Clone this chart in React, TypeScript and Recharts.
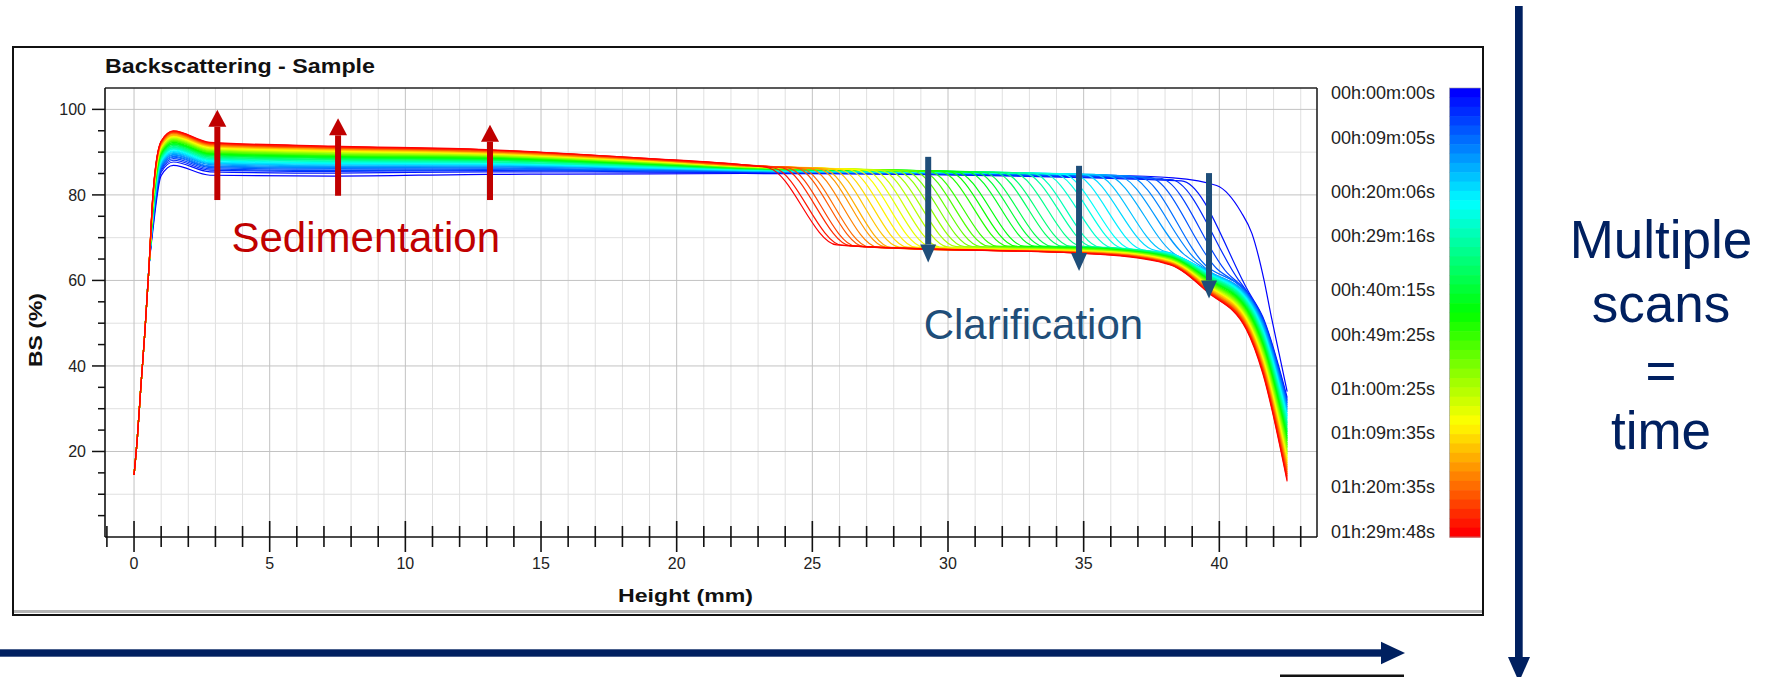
import React from 'react';
import { LineChart, Line, XAxis, YAxis, CartesianGrid, ReferenceLine } from 'recharts';

const FONT = '"Liberation Sans", Arial, Helvetica, sans-serif';
const NAVY = '#002060';
const _ = null;

// Bottom of the vial: every scan climbs the same way (height mm, BS %)
const riseHeights = [0, 0.12, 0.25, 0.4, 0.55];
const riseBS = [14.5, 23, 35, 48, 63];

// Sediment / plateau zone, one value per scan (scan 0 = t0 ... scan 47 = 1h29m48s)
const plateauHeights = [0.7, 1.0, 1.45, 2.8, 7.4, 13, 19, 22.5];
const bsAt0p7 = [72.0, 72.8, 73.3, 73.6, 73.9, 74.2, 74.5, 74.7, 74.9, 75.2, 75.4, 75.6, 75.7, 75.9, 76.1, 76.3, 76.5, 76.6, 76.8, 76.9, 77.1, 77.2, 77.4, 77.5, 77.7, 77.8, 78.0, 78.1, 78.2, 78.4, 78.5, 78.6, 78.7, 78.9, 79.0, 79.1, 79.2, 79.4, 79.5, 79.6, 79.7, 79.8, 79.9, 80.1, 80.2, 80.3, 80.4, 80.5];
const bsAt1p0 = [84.5, 85.3, 85.7, 86.1, 86.4, 86.6, 86.9, 87.1, 87.3, 87.5, 87.7, 87.9, 88.1, 88.3, 88.4, 88.6, 88.7, 88.9, 89.1, 89.2, 89.4, 89.5, 89.6, 89.8, 89.9, 90.1, 90.2, 90.3, 90.4, 90.6, 90.7, 90.8, 90.9, 91.1, 91.2, 91.3, 91.4, 91.5, 91.6, 91.7, 91.9, 92.0, 92.1, 92.2, 92.3, 92.4, 92.5, 92.6];
const bsAt1p45 = [86.9, 87.7, 88.1, 88.5, 88.8, 89.0, 89.3, 89.5, 89.7, 89.9, 90.1, 90.3, 90.5, 90.7, 90.8, 91.0, 91.1, 91.3, 91.5, 91.6, 91.8, 91.9, 92.0, 92.2, 92.3, 92.5, 92.6, 92.7, 92.8, 93.0, 93.1, 93.2, 93.3, 93.5, 93.6, 93.7, 93.8, 93.9, 94.0, 94.1, 94.3, 94.4, 94.5, 94.6, 94.7, 94.8, 94.9, 95.0];
const bsAt2p8 = [84.6, 85.4, 85.8, 86.1, 86.4, 86.6, 86.8, 87.1, 87.3, 87.5, 87.6, 87.8, 88.0, 88.2, 88.3, 88.5, 88.6, 88.8, 88.9, 89.1, 89.2, 89.4, 89.5, 89.6, 89.7, 89.9, 90.0, 90.1, 90.2, 90.4, 90.5, 90.6, 90.7, 90.8, 90.9, 91.1, 91.2, 91.3, 91.4, 91.5, 91.6, 91.7, 91.8, 91.9, 92.0, 92.1, 92.2, 92.3];
const bsAt7p4 = [84.4, 85.1, 85.5, 85.7, 86.0, 86.2, 86.4, 86.6, 86.8, 87.0, 87.2, 87.3, 87.5, 87.6, 87.8, 87.9, 88.1, 88.2, 88.3, 88.5, 88.6, 88.7, 88.8, 89.0, 89.1, 89.2, 89.3, 89.4, 89.5, 89.6, 89.8, 89.9, 90.0, 90.1, 90.2, 90.3, 90.4, 90.5, 90.6, 90.7, 90.8, 90.9, 91.0, 91.0, 91.1, 91.2, 91.3, 91.4];
const bsAt13 = [84.8, 85.4, 85.7, 85.9, 86.1, 86.3, 86.5, 86.7, 86.8, 87.0, 87.1, 87.2, 87.4, 87.5, 87.6, 87.7, 87.8, 88.0, 88.1, 88.2, 88.3, 88.4, 88.5, 88.6, 88.7, 88.8, 88.9, 89.0, 89.1, 89.1, 89.2, 89.3, 89.4, 89.5, 89.6, 89.7, 89.7, 89.8, 89.9, 90.0, 90.1, 90.1, 90.2, 90.3, 90.4, 90.5, 90.5, 90.6];
const bsAt19 = [84.9, 85.3, 85.4, 85.6, 85.7, 85.8, 86.0, 86.1, 86.2, 86.2, 86.3, 86.4, 86.5, 86.6, 86.6, 86.7, 86.8, 86.9, 86.9, 87.0, 87.1, 87.1, 87.2, 87.2, 87.3, 87.4, 87.4, 87.5, 87.5, 87.6, 87.7, 87.7, 87.8, 87.8, 87.9, 87.9, 88.0, 88.0, 88.1, 88.1, 88.2, 88.2, 88.3, 88.3, 88.4, 88.4, 88.5, 88.5];
const bsAt22p5 = [85.0, 85.2, 85.3, 85.4, 85.5, 85.5, 85.6, 85.6, 85.7, 85.7, 85.8, 85.8, 85.9, 85.9, 86.0, 86.0, 86.1, 86.1, 86.1, 86.2, 86.2, 86.2, 86.3, 86.3, 86.3, 86.4, 86.4, 86.4, 86.5, 86.5, 86.5, 86.6, 86.6, 86.6, 86.7, 86.7, 86.7, 86.7, 86.8, 86.8, 86.8, 86.8, 86.9, 86.9, 86.9, 87.0, 87.0, 87.0];

// Clarification front of each scan: shoulder and foot (height mm, BS %)
const frontTopH = [_, 38.6, 38.2, 37.8, 37.4, 37.0, 36.6, 36.2, 35.8, 35.4, 35.0, 34.6, 34.2, 33.9, 33.5, 33.1, 32.8, 32.4, 32.0, 31.7, 31.3, 31.0, 30.7, 30.3, 30.0, 29.7, 29.3, 29.0, 28.7, 28.4, 28.1, 27.8, 27.5, 27.2, 26.9, 26.6, 26.3, 26.0, 25.7, 25.4, 25.2, 24.9, 24.6, 24.4, 24.1, 23.9, 23.6, 23.4];
const frontTopBS = [_, 83.3, 83.6, 83.9, 84.1, 84.3, 84.5, 84.6, 84.7, 84.8, 84.8, 84.9, 84.9, 85.0, 85.0, 85.1, 85.1, 85.2, 85.2, 85.3, 85.3, 85.4, 85.4, 85.4, 85.5, 85.5, 85.5, 85.6, 85.6, 85.6, 85.7, 85.7, 85.8, 85.8, 85.9, 85.9, 86.0, 86.0, 86.1, 86.1, 86.2, 86.2, 86.2, 86.3, 86.3, 86.3, 86.3, 86.3];
const frontFootH = [_, 41.1, 40.7, 40.3, 39.9, 39.5, 39.1, 38.7, 38.3, 37.9, 37.5, 37.1, 36.7, 36.4, 36.0, 35.6, 35.3, 34.9, 34.5, 34.2, 33.8, 33.5, 33.2, 32.8, 32.5, 32.2, 31.8, 31.5, 31.2, 30.9, 30.6, 30.3, 30.0, 29.7, 29.4, 29.1, 28.8, 28.5, 28.2, 27.9, 27.7, 27.4, 27.1, 26.9, 26.6, 26.4, 26.1, 25.9];
const frontFootBS = [_, 57.1, 60.2, 61.7, 62.8, 63.5, 65.1, 66.1, 66.4, 67.0, 67.3, 67.3, 67.4, 67.5, 67.7, 67.8, 67.9, 68.0, 68.0, 68.0, 68.0, 68.0, 68.0, 68.0, 68.0, 68.0, 68.0, 68.0, 67.9, 67.9, 67.9, 67.9, 67.8, 67.8, 67.8, 67.8, 67.8, 67.8, 67.8, 67.7, 67.8, 67.8, 67.8, 67.9, 68.0, 68.1, 68.2, 68.3];

// Clarified zone and meniscus, only once a scan has passed its front
const tailHeights = [36, 38.2, 39.6, 41, 41.6, 42.5];
const tailAt36 = [_, _, _, _, _, _, _, _, _, _, _, _, _, _, _, 67.7, 67.6, 67.6, 67.5, 67.5, 67.4, 67.3, 67.3, 67.2, 67.2, 67.1, 67.1, 67.0, 67.0, 66.9, 66.8, 66.8, 66.7, 66.7, 66.6, 66.6, 66.5, 66.5, 66.4, 66.3, 66.3, 66.2, 66.2, 66.1, 66.1, 66.0, 66.0, 65.9];
const tailAt38p2 = [_, _, _, _, _, _, _, _, _, 66.4, 66.4, 66.3, 66.2, 66.1, 66.1, 66.0, 65.9, 65.8, 65.8, 65.7, 65.6, 65.5, 65.5, 65.4, 65.3, 65.2, 65.2, 65.1, 65.0, 64.9, 64.9, 64.8, 64.7, 64.6, 64.6, 64.5, 64.4, 64.3, 64.3, 64.2, 64.1, 64.0, 64.0, 63.9, 63.8, 63.8, 63.7, 63.6];
const tailAt39p6 = [_, _, _, _, _, _, 62.3, 62.2, 62.1, 62.0, 61.8, 61.7, 61.6, 61.4, 61.3, 61.2, 61.1, 60.9, 60.8, 60.7, 60.5, 60.4, 60.3, 60.2, 60.0, 59.9, 59.8, 59.7, 59.5, 59.4, 59.3, 59.1, 59.0, 58.9, 58.8, 58.6, 58.5, 58.4, 58.3, 58.1, 58.0, 57.9, 57.7, 57.6, 57.5, 57.4, 57.2, 57.1];
const tailAt41 = [_, _, 57.6, 57.4, 57.2, 57.0, 56.8, 56.6, 56.4, 56.2, 56.0, 55.8, 55.6, 55.4, 55.2, 55.0, 54.8, 54.6, 54.4, 54.2, 54.0, 53.8, 53.6, 53.4, 53.1, 52.9, 52.7, 52.5, 52.3, 52.1, 51.9, 51.7, 51.5, 51.3, 51.1, 50.9, 50.7, 50.5, 50.3, 50.1, 49.9, 49.7, 49.5, 49.3, 49.1, 48.9, 48.7, 48.5];
const tailAt41p6 = [_, 51.5, 51.2, 50.9, 50.7, 50.4, 50.1, 49.8, 49.5, 49.2, 48.9, 48.6, 48.4, 48.1, 47.8, 47.5, 47.2, 46.9, 46.6, 46.4, 46.1, 45.8, 45.5, 45.2, 44.9, 44.6, 44.3, 44.1, 43.8, 43.5, 43.2, 42.9, 42.6, 42.3, 42.0, 41.7, 41.5, 41.2, 40.9, 40.6, 40.3, 40.0, 39.7, 39.5, 39.2, 38.9, 38.6, 38.3];
const tailAt42p5 = [_, 32.6, 32.1, 31.7, 31.3, 30.9, 30.4, 30.0, 29.6, 29.2, 28.7, 28.3, 27.9, 27.5, 27.0, 26.6, 26.2, 25.8, 25.3, 24.9, 24.5, 24.1, 23.6, 23.2, 22.8, 22.4, 21.9, 21.5, 21.1, 20.7, 20.2, 19.8, 19.4, 19.0, 18.5, 18.1, 17.7, 17.3, 16.8, 16.4, 16.0, 15.6, 15.1, 14.7, 14.3, 13.9, 13.4, 13.0];

// The t0 scan has no front yet, only the meniscus drop
const firstScanTop: [number, number][] = [
  [30, 84.9], [36, 84.6], [38.3, 84.0], [39.9, 82.2], [40.8, 76.0],
  [41.2, 71.0], [41.65, 60.0], [41.9, 52.0], [42.2, 43.0], [42.5, 34.0],
];

const heightTicks = [-1, 0, 1, 2, 3, 4, 5, 6, 7, 8, 9, 10, 11, 12, 13, 14, 15, 16, 17, 18, 19, 20, 21, 22, 23, 24, 25, 26, 27, 28, 29, 30, 31, 32, 33, 34, 35, 36, 37, 38, 39, 40, 41, 42, 43];
const bsTicks = [5, 10, 15, 20, 25, 30, 35, 40, 45, 50, 55, 60, 65, 70, 75, 80, 85, 90, 95, 100];
const timeTickSeconds = [0, 545, 1206, 1756, 2415, 2965, 3625, 4175, 4835, 5388];
const timeTickLabels = ['00h:00m:00s', '00h:09m:05s', '00h:20m:06s', '00h:29m:16s', '00h:40m:15s', '00h:49m:25s', '01h:00m:25s', '01h:09m:35s', '01h:20m:35s', '01h:29m:48s'];

const sedimentationArrows = [
  { h: 3.07, from: 78.8, to: 99.9 },
  { h: 7.52, from: 79.8, to: 97.9 },
  { h: 13.12, from: 78.8, to: 96.4 },
];
const clarificationArrows = [
  { h: 29.27, from: 88.9, to: 64.2 },
  { h: 34.83, from: 86.8, to: 62.2 },
  { h: 39.62, from: 85.1, to: 55.8 },
];

const plateauRows = [bsAt0p7, bsAt1p0, bsAt1p45, bsAt2p8, bsAt7p4, bsAt13, bsAt19, bsAt22p5];
const tailRows = [tailAt36, tailAt38p2, tailAt39p6, tailAt41, tailAt41p6, tailAt42p5];

type Pt = { h: number; bs: number };

const scans: Pt[][] = bsAt0p7.map((first, i) => {
  const pts: Pt[] = riseHeights.map((h, k) => ({ h, bs: riseBS[k] }));
  plateauHeights.forEach((h, k) => pts.push({ h, bs: plateauRows[k][i] }));
  if (i === 0) {
    firstScanTop.forEach(([h, bs]) => pts.push({ h, bs }));
    return pts;
  }
  pts.push({ h: frontTopH[i] as number, bs: frontTopBS[i] as number });
  pts.push({ h: frontFootH[i] as number, bs: frontFootBS[i] as number });
  tailHeights.forEach((h, k) => {
    const v = tailRows[k][i];
    if (v != null) pts.push({ h, bs: v });
  });
  return pts;
});

// blue -> cyan -> green -> yellow -> red, as on the instrument's time scale
const jetStops = [[0, 0, 255], [0, 255, 255], [0, 255, 0], [255, 255, 0], [255, 0, 0]];
function jet(u: number) {
  const s = Math.min(3.9999, Math.max(0, u) * 4);
  const k = Math.floor(s);
  const f = s - k;
  const a = jetStops[k];
  const b = jetStops[k + 1];
  return `rgb(${a.map((c, j) => Math.round(c + (b[j] - c) * f)).join(',')})`;
}
const scanColors = scans.map((s, i) => jet(i / (scans.length - 1)));

// colour scale: bar spans the plot height, labels sit on a slightly inset time scale
const BAR_TOP = 88;
const BAR_H = 449;
const LABEL_TOP = 93;
const LABEL_SPAN = 439;

function XTick(props: any) {
  const { x, y, payload } = props;
  const v = payload.value as number;
  const major = v % 5 === 0;
  return (
    <g>
      <line x1={x} x2={x} y1={y - (major ? 16 : 11)} y2={y + (major ? 15 : 10)} stroke="#111" strokeWidth={1.6} />
      {major && v >= 0 && v <= 40 ? (
        <text x={x} y={y + 26} dy="0.35em" textAnchor="middle" fontSize={16} fill="#222" fontFamily={FONT}>
          {v}
        </text>
      ) : null}
    </g>
  );
}

function YTick(props: any) {
  const { x, y, payload } = props;
  const v = payload.value as number;
  const major = v % 20 === 0;
  return (
    <g>
      <line x1={x - (major ? 13 : 7)} x2={x} y1={y} y2={y} stroke="#111" strokeWidth={1.5} />
      {major ? (
        <text x={x - 19} y={y} dy="0.35em" textAnchor="end" fontSize={16} fill="#222" fontFamily={FONT}>
          {v}
        </text>
      ) : null}
    </g>
  );
}

// vertical block arrow drawn from (x1,y1) to the tip at (x2,y2)
function arrowShape(color: string, headLen: number, headHalf: number) {
  return (props: any) => {
    const { x1, y1, x2, y2 } = props;
    const dir = y2 > y1 ? 1 : -1;
    const yb = y2 - dir * headLen;
    return (
      <g>
        <rect x={x1 - 3} y={Math.min(y1, yb)} width={6} height={Math.abs(yb - y1)} fill={color} />
        <polygon points={`${x2 - headHalf},${yb} ${x2 + headHalf},${yb} ${x2},${y2}`} fill={color} />
      </g>
    );
  };
}

export default function App() {
  const bandH = BAR_H / scanColors.length;
  const total = timeTickSeconds[timeTickSeconds.length - 1];
  return (
    <div style={{ position: 'absolute', left: 0, top: 0, width: 1767, height: 677, background: '#fff', overflow: 'hidden', fontFamily: FONT }}>
      <div style={{ position: 'absolute', left: 12, top: 46, width: 1472, height: 570, border: '2px solid #111', boxSizing: 'border-box' }} />
      <div style={{ position: 'absolute', left: 14, top: 610, width: 1468, height: 3, background: '#b4b4b4' }} />

      <div style={{ position: 'absolute', left: 0, top: 0 }}>
        <LineChart width={1490} height={640} margin={{ top: 88, right: 173, bottom: 23, left: 0 }}>
          <CartesianGrid horizontalValues={[10, 30, 50, 70, 90]} verticalValues={heightTicks.filter((t) => t >= 0 && t % 5 !== 0)} stroke="#e0e0e0" strokeWidth={1} />
          <CartesianGrid horizontalValues={[20, 40, 60, 80, 100]} verticalValues={[0, 5, 10, 15, 20, 25, 30, 35, 40]} stroke="#c2c2c2" strokeWidth={1} />
          <XAxis
            dataKey="h"
            type="number"
            domain={[-1.07, 43.6]}
            ticks={heightTicks}
            interval={0}
            height={80}
            tickSize={0}
            tickMargin={0}
            tickLine={false}
            axisLine={{ stroke: '#111', strokeWidth: 1.6 }}
            tick={(p: any) => <XTick {...p} />}
          />
          <YAxis
            type="number"
            domain={[0, 105]}
            ticks={bsTicks}
            interval={0}
            width={105}
            tickSize={0}
            tickMargin={0}
            tickLine={false}
            axisLine={{ stroke: '#111', strokeWidth: 1.6 }}
            tick={(p: any) => <YTick {...p} />}
          />
          <ReferenceLine y={105} stroke="#222" strokeWidth={1.6} ifOverflow="visible" />
          <ReferenceLine x={43.6} stroke="#222" strokeWidth={1.6} ifOverflow="visible" />
          {scans.map((pts, i) => (
            <Line
              key={i}
              data={pts}
              dataKey="bs"
              type="monotone"
              stroke={scanColors[i]}
              strokeWidth={1.2}
              dot={false}
              activeDot={false}
              isAnimationActive={false}
            />
          ))}
          {sedimentationArrows.map((a, i) => (
            <ReferenceLine
              key={`s${i}`}
              segment={[{ x: a.h, y: a.from }, { x: a.h, y: a.to }]}
              ifOverflow="visible"
              zIndex={900}
              shape={arrowShape('#C00000', 17, 9)}
            />
          ))}
          {clarificationArrows.map((a, i) => (
            <ReferenceLine
              key={`c${i}`}
              segment={[{ x: a.h, y: a.from }, { x: a.h, y: a.to }]}
              ifOverflow="visible"
              zIndex={900}
              shape={arrowShape('#1F4E79', 18, 8)}
            />
          ))}
        </LineChart>
      </div>

      <svg width={1767} height={677} style={{ position: 'absolute', left: 0, top: 0, pointerEvents: 'none' }}>
        <text x={105} y={73} fontFamily={FONT} fontWeight="bold" fontSize={21} fill="#111" textLength={270} lengthAdjust="spacingAndGlyphs">
          Backscattering - Sample
        </text>
        <text transform="translate(41.5,330) rotate(-90)" textAnchor="middle" fontFamily={FONT} fontWeight="bold" fontSize={19} fill="#111" textLength={74} lengthAdjust="spacingAndGlyphs">
          BS (%)
        </text>
        <text x={685.5} y={601.5} textAnchor="middle" fontFamily={FONT} fontWeight="bold" fontSize={19} fill="#111" textLength={135} lengthAdjust="spacingAndGlyphs">
          Height (mm)
        </text>
        <text x={231.5} y={251.7} fontFamily={FONT} fontSize={42} fill="#C00000">
          Sedimentation
        </text>
        <text x={923.7} y={339.3} fontFamily={FONT} fontSize={42} fill="#1F4E79">
          Clarification
        </text>

        {scanColors.map((c, k) => (
          <rect key={k} x={1449.5} y={BAR_TOP + k * bandH} width={31} height={bandH + 0.6} fill={c} />
        ))}
        <rect x={1449.5} y={BAR_TOP} width={31} height={BAR_H} fill="none" stroke="#9a9a9a" strokeWidth={0.6} />
        {timeTickSeconds.map((t, k) => (
          <text
            key={t}
            x={1331}
            y={LABEL_TOP + (t / total) * LABEL_SPAN}
            dy="0.35em"
            fontFamily={FONT}
            fontSize={18}
            fill="#222"
          >
            {timeTickLabels[k]}
          </text>
        ))}

        <g fontFamily={FONT} fontSize={53} fill={NAVY} textAnchor="middle">
          <text x={1661} y={258}>Multiple</text>
          <text x={1661} y={321.5}>scans</text>
          <text x={1661} y={389}>=</text>
          <text x={1661} y={449}>time</text>
        </g>

        <rect x={0} y={649.3} width={1381} height={7.4} fill={NAVY} />
        <polygon points="1381,641.7 1405,653 1381,664.3" fill={NAVY} />
        <rect x={1515} y={6} width={7.7} height={652} fill={NAVY} />
        <polygon points="1508,657 1530,657 1519,682" fill={NAVY} />
        <rect x={1280} y={674.5} width={124} height={2.5} fill="#111" />
      </svg>
    </div>
  );
}
